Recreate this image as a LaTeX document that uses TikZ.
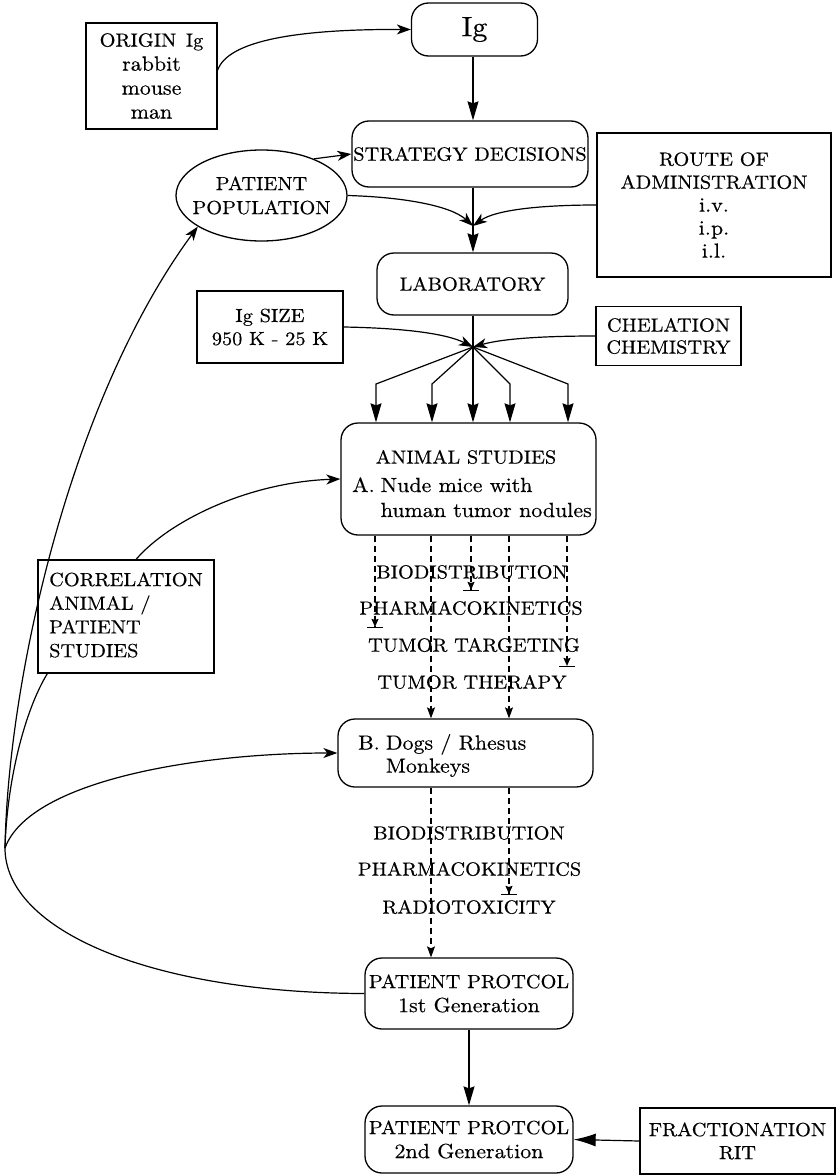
\documentclass[tikz,border=0pt]{standalone}
\usepackage{fontspec}
\setmainfont{lmroman10-regular.otf}[FakeStretch=1.07,FakeBold=0.4]
\usetikzlibrary{arrows.meta,shapes.geometric}
\newcommand{\lowtxt}[1]{{\fontsize{20.5}{24}\selectfont #1}}
\begin{document}
\begin{tikzpicture}[x=1pt,y=-1pt,
  font=\fontsize{19}{24}\selectfont,
  box/.style={draw, line width=1.3pt, inner sep=0pt, align=center},
  rbox/.style={box, rounded corners=17pt},
  lbl/.style={inner sep=0pt, align=center},
  conn/.style={line width=1.2pt},
  varrow/.style={conn, -{Stealth[length=19pt,width=11pt,inset=2pt]}},
  carrow/.style={conn, -{Stealth[length=14pt,width=10pt,inset=4pt]}},
  farrow/.style={conn, -{Latex[length=22pt,width=13pt]}},
  dline/.style={line width=1.1pt, dash pattern=on 6pt off 4pt},
  darrow/.style={dline, -{Stealth[length=11pt,width=8pt,inset=2pt]}},
  tbar/.style={dline, -{Stealth[length=8pt,width=7pt,inset=1pt]Bar[width=16pt]}},
]
\path[fill=white,use as bounding box] (0,0) rectangle (836,1175);

% boxes
\node[rbox, minimum width=126pt, minimum height=53pt, font=\fontsize{28}{30}\selectfont] (ig) at (474.5,29.5) {Ig};
\node[box, minimum width=131pt, minimum height=106pt] (orig) at (151.5,76) {ORIGIN\enspace Ig\\\lowtxt{rabbit}\\\lowtxt{mouse}\\\lowtxt{man}};
\node[rbox, minimum width=236pt, minimum height=66pt] (strat) at (470,154) {STRATEGY DECISIONS};
\node[draw, ellipse, line width=1.3pt, inner sep=0pt, minimum width=171pt, minimum height=91pt] (pat) at (261.5,195.5) {};
\node[lbl] (patT) at (pat.center) {PATIENT\\POPULATION};
\node[box, minimum width=234pt, minimum height=144pt, font=\fontsize{19}{23}\selectfont] (route) at (714,205) {ROUTE OF\\ADMINISTRATION\\\lowtxt{i.v.}\\\lowtxt{i.p.}\\\lowtxt{i.l.}};
\node[rbox, minimum width=191pt, minimum height=62pt] (lab) at (472.5,284) {LABORATORY};
\node[box, minimum width=146pt, minimum height=72pt, font=\fontsize{19}{23}\selectfont] (igs) at (270,327) {Ig SIZE\\950 K - 25 K};
\node[box, minimum width=145pt, minimum height=59pt, font=\fontsize{19}{22}\selectfont] (chel) at (668.5,336) {CHELATION\\CHEMISTRY};
\coordinate (cv) at (473,347);
\coordinate (m1) at (473,226);

\node[rbox, minimum width=255pt, minimum height=112pt] (an) at (468.5,479) {};
\node[lbl] (anT) at (466,457) {ANIMAL STUDIES};
\node[lbl, anchor=west, font=\fontsize{20.5}{25}\selectfont] (anA) at (352,499.5) {\begin{tabular}{@{}l@{\hspace{6pt}}l@{}}A. & Nude mice with\\ & human tumor nodules\end{tabular}};

\node[box, minimum width=176pt, minimum height=113pt] (corr) at (126,616.5) {};
\node[lbl, anchor=west, align=left, font=\fontsize{19}{23.7}\selectfont] (corrT) at (49,615) {CORRELATION\\ANIMAL /\\PATIENT\\STUDIES};

\node[lbl] (l1) at (472,572) {BIODISTRIBUTION};
\node[lbl] (l2) at (471,608) {PHARMACOKINETICS};
\node[lbl] (l3) at (474,645) {TUMOR TARGETING};
\node[lbl] (l4) at (472,682) {TUMOR THERAPY};

\node[rbox, minimum width=255pt, minimum height=68pt] (b) at (465.5,753) {};
\node[lbl, anchor=west, font=\fontsize{20.5}{23}\selectfont] (bT) at (358,756.5) {\begin{tabular}{@{}l@{\hspace{6pt}}l@{}}B. & Dogs / Rhesus\\ & Monkeys\end{tabular}};

\node[lbl] (k1) at (469,833) {BIODISTRIBUTION};
\node[lbl] (k2) at (469.5,869) {PHARMACOKINETICS};
\node[lbl] (k3) at (469,907) {RADIOTOXICITY};

\node[rbox, minimum width=208pt, minimum height=71pt] (pp1) at (469,993.5) {PATIENT PROTCOL\\\lowtxt{1st Generation}};
\node[rbox, minimum width=208pt, minimum height=67pt] (pp2) at (469,1139.5) {PATIENT PROTCOL\\\lowtxt{2nd Generation}};
\node[box, minimum width=195pt, minimum height=66pt, font=\fontsize{19}{23}\selectfont] (fr) at (737.5,1141) {FRACTIONATION\\RIT};

% helper coordinates
\coordinate (J) at (5,848);
\coordinate (f1) at (376,384);
\coordinate (f2) at (432,384);
\coordinate (f4) at (510,384);
\coordinate (f5) at (568,384);
\coordinate (t1) at (375,628);
\coordinate (t3) at (471,591);
\coordinate (t5) at (567,667);
\coordinate (t6) at (509,895);
\coordinate (x2) at (431,0);
\coordinate (x4) at (509,0);

% connectors
\draw[carrow] (orig.5) .. controls (228,40) and (300,29) .. (ig.west);
\draw[varrow] (ig.south -| cv) -- (strat.north -| cv);
\draw[carrow] (pat.35) -- (strat.west);
\draw[varrow] (strat.south -| cv) -- (lab.north -| cv);
\draw[carrow] (pat.east) .. controls (400,197) and (450,205) .. (m1);
\draw[carrow] (route.west) .. controls (540,205) and (495,210) .. (m1);
\draw[conn] (lab.south -| cv) -- (cv);
\draw[carrow] (igs.east) .. controls (400,328) and (445,333) .. (cv);
\draw[carrow] (chel.west) .. controls (550,336) and (505,338) .. (cv);
\foreach \f in {f1,f2,f4,f5} \draw[varrow] (cv) -- (\f) -- (an.north -| \f);
\draw[varrow] (cv) -- (an.north -| cv);

\draw[tbar] (an.south -| t1) -- (t1);
\draw[darrow] (an.south -| x2) -- (b.north -| x2);
\draw[tbar] (an.south -| t3) -- (t3);
\draw[darrow] (an.south -| x4) -- (b.north -| x4);
\draw[tbar] (an.south -| t5) -- (t5);
\draw[darrow] (b.south -| x2) -- (pp1.north -| x2);
\draw[tbar] (b.south -| t6) -- (t6);
\draw[varrow] (pp1.south) -- (pp2.north);
\draw[farrow] (fr.west) -- (pp2.east);

\draw[conn] (pp1.west) .. controls (150,993) and (5,930) .. (J);
\draw[carrow] (J) .. controls (30,780) and (200,753) .. (b.west);
\draw[conn] (J) .. controls (7,780) and (25,710) .. (corr.216);
\draw[carrow] (J) .. controls (8,680) and (70,400) .. (pat.206);
\draw[carrow] (corr.80) .. controls (170,520) and (250,482) .. (an.west);
\end{tikzpicture}
\end{document}
